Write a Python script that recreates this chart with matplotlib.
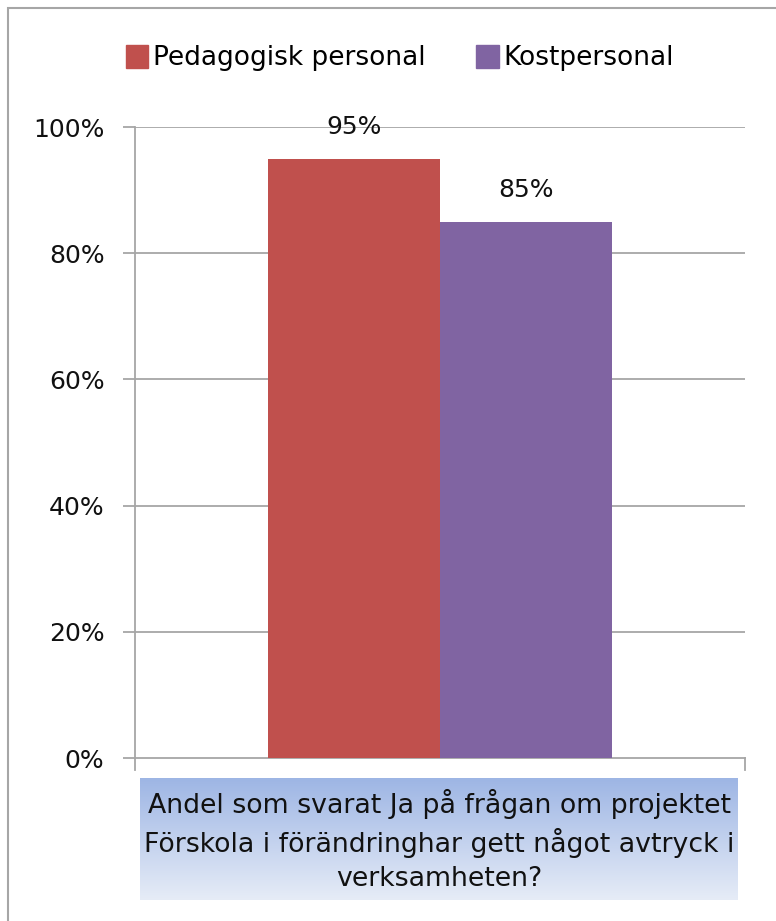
import matplotlib
matplotlib.use("Agg")
import matplotlib.pyplot as plt
import numpy as np
from matplotlib.patches import Rectangle
from matplotlib.lines import Line2D

plt.rcParams['font.family'] = ['DejaVu Sans']

series = ["Pedagogisk personal", "Kostpersonal"]
values = [0.95, 0.85]
colors = ["#C0504D", "#8064A2"]
category = "Andel som svarat Ja på frågan om projektet\nFörskola i förändringhar gett något avtryck i\nverksamheten?"
yticks = [0, 0.2, 0.4, 0.6, 0.8, 1.0]
ytick_labels = ["0%", "20%", "40%", "60%", "80%", "100%"]

W, H = 776, 921
fig = plt.figure(figsize=(W/100, H/100), dpi=100)

# outer frame
fig.patches.append(Rectangle((8/W, -0.1), 1.2, (H-8)/H + 0.1, transform=fig.transFigure,
                             fill=False, edgecolor="#A6A6A6", linewidth=1.5))

ax = fig.add_axes([135/W, (H-758)/H, 610/W, 631/H])
grid_c = "#A6A6A6"
txt_c = "#111111"
bw = 0.282
xs = [-bw/2, bw/2]
for x, v, c, s in zip(xs, values, colors, series):
    ax.bar(x, v, width=bw, color=c, label=s, zorder=3)
    ax.text(x, v + 0.031, f"{round(v*100)}%", ha="center", va="bottom", fontsize=18, color=txt_c)
ax.set_xlim(-0.5, 0.5)
ax.set_ylim(0, 1.0)
ax.set_yticks(yticks)
ax.set_yticklabels(ytick_labels, fontsize=18)
ax.set_xticks([])
for y in yticks[1:]:
    ax.axhline(y, color=grid_c, linewidth=1.3, zorder=1)
for s in ["top", "right"]:
    ax.spines[s].set_visible(False)
ax.spines["left"].set_color(grid_c)
ax.spines["bottom"].set_color(grid_c)
ax.spines["left"].set_linewidth(1.3)
ax.spines["bottom"].set_linewidth(1.3)
ax.tick_params(axis="y", length=9, color=grid_c, width=1.3, pad=13, labelcolor=txt_c)
# x tick marks at the edges
for xv in [135, 745]:
    fig.add_artist(Line2D([xv/W, xv/W], [(H-758)/H, (H-770)/H], color=grid_c, linewidth=1.3))

# category label box with gradient
bax = fig.add_axes([140/W, (H-900)/H, 598/W, 122/H])
top = np.array([0x9D, 0xB5, 0xE4]) / 255
bot = np.array([0xE6, 0xEC, 0xF7]) / 255
t = np.linspace(0, 1, 256)[:, None]
grad = (top[None, :] * (1 - t) + bot[None, :] * t)[:, None, :]
bax.imshow(grad, aspect="auto", extent=[0, 1, 0, 1], origin="upper")
bax.set_xlim(0, 1); bax.set_ylim(0, 1)
bax.axis("off")
bax.text(0.5, 0.49, category, ha="center", va="center", fontsize=19.3, color=txt_c,
         linespacing=1.38)

# legend
handles = [Rectangle((0, 0), 1, 1, color=c) for c in colors]
fig.legend(handles, series, loc="center", bbox_to_anchor=(400/W, (H-58)/H), ncol=2,
           frameon=False, fontsize=19, handlelength=0.85, handleheight=1.0,
           handletextpad=0.2, columnspacing=1.9)

fig.savefig("out.png", dpi=100)
